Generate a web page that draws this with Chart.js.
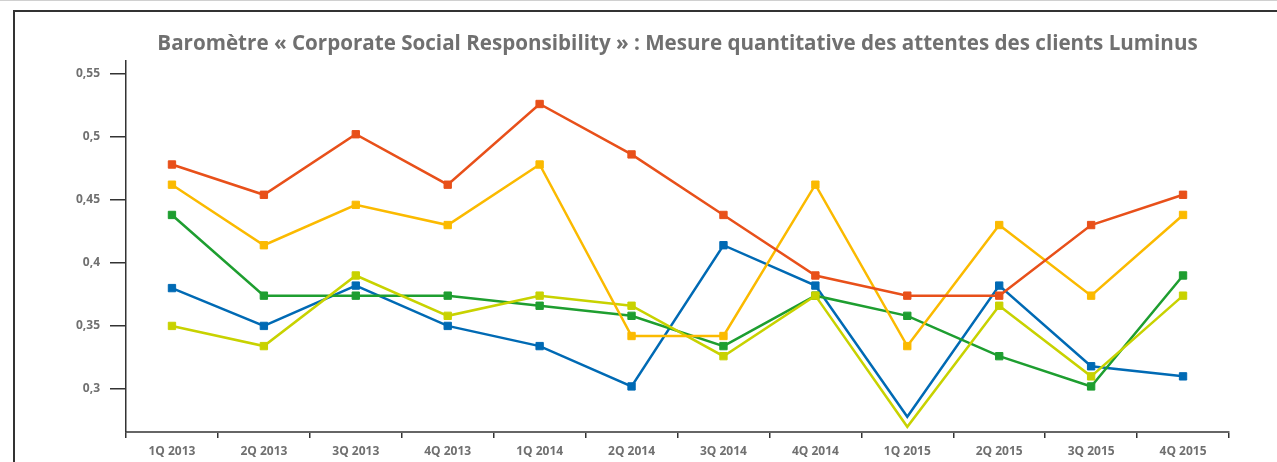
<!DOCTYPE html>
<html>
<head>
<meta charset="utf-8">
<script src="https://cdn.jsdelivr.net/npm/chart.js@4"></script>
<style>
  html, body { margin: 0; padding: 0; background: #fff; }
  body { width: 1277px; height: 462px; position: relative; overflow: hidden; border-top: 1px solid #d0d0d0; box-sizing: border-box; }
  #frame { position: absolute; left: 13px; top: 9px; right: -5px; bottom: -5px; border-left: 2px solid #333; border-top: 2px solid #333; }
  #wrap { position: absolute; left: 0; top: 0; width: 1277px; height: 462px; }
</style>
</head>
<body>
<div id="frame"></div>
<div id="wrap"><canvas id="chart"></canvas></div>
<script>
const quarters = ["1Q 2013", "2Q 2013", "3Q 2013", "4Q 2013", "1Q 2014", "2Q 2014", "3Q 2014", "4Q 2014", "1Q 2015", "2Q 2015", "3Q 2015", "4Q 2015"];

const orangeSeries = [0.478, 0.454, 0.502, 0.462, 0.526, 0.486, 0.438, 0.390, 0.374, 0.374, 0.430, 0.454];
const yellowSeries = [0.462, 0.414, 0.446, 0.430, 0.478, 0.342, 0.342, 0.462, 0.334, 0.430, 0.374, 0.438];
const limeSeries   = [0.350, 0.334, 0.390, 0.358, 0.374, 0.366, 0.326, 0.374, 0.270, 0.366, 0.310, 0.374];
const greenSeries  = [0.438, 0.374, 0.374, 0.374, 0.366, 0.358, 0.334, 0.374, 0.358, 0.326, 0.302, 0.390];
const blueSeries   = [0.380, 0.350, 0.382, 0.350, 0.334, 0.302, 0.414, 0.382, 0.278, 0.382, 0.318, 0.310];

const yTicks = [0.3, 0.35, 0.4, 0.45, 0.5, 0.55];

const grey = "#707070";
const font = "'Open Sans', 'DejaVu Sans', sans-serif";

function line(data, color, noMarkerAt) {
  return {
    data: data,
    borderColor: color,
    backgroundColor: color,
    borderWidth: 2.5,
    pointStyle: "rect",
    pointRadius: ctx => ctx.dataIndex === noMarkerAt ? 0 : 5.2,
    pointBorderWidth: 1,
    pointHoverRadius: 5.2,
    tension: 0,
    fill: false
  };
}

const ctx = document.getElementById("chart").getContext("2d");
new Chart(ctx, {
  type: "line",
  data: {
    labels: quarters,
    datasets: [
      line(orangeSeries, "#E8501A", -1),
      line(yellowSeries, "#FBBA00", -1),
      line(limeSeries, "#C8D200", 8),
      line(greenSeries, "#1E9E30", -1),
      line(blueSeries, "#006AB4", 8)
    ]
  },
  options: {
    responsive: true,
    maintainAspectRatio: false,
    animation: false,
    layout: { padding: { left: 0, right: 48, top: 0, bottom: 0 } },
    plugins: {
      legend: { display: false },
      tooltip: { enabled: false },
      title: {
        display: true,
        fullSize: false,
        text: "Baromètre « Corporate Social Responsibility » : Mesure quantitative des attentes des clients Luminus",
        color: grey,
        font: { family: font, size: 20.6, weight: "bold" },
        padding: { top: 31, bottom: 4 }
      }
    },
    scales: {
      x: {
        offset: true,
        grid: { display: true, drawOnChartArea: false, tickLength: 6, color: "#333", lineWidth: 1.5, offset: true },
        border: { display: true, color: "#666", width: 2 },
        ticks: { color: grey, font: { family: font, size: 12, weight: "bold" }, padding: 6, maxRotation: 0 },
        afterFit: s => { s.height = 31; }
      },
      y: {
        min: 0.26587,
        max: 0.56032,
        afterBuildTicks: s => { s.ticks = yTicks.map(v => ({ value: v })); },
        grid: { display: true, drawOnChartArea: false, tickLength: 16, color: "#333", lineWidth: 1.5 },
        border: { display: true, color: "#333", width: 1.5 },
        ticks: {
          color: grey,
          font: { family: font, size: 12, weight: "bold" },
          padding: 10,
          callback: v => String(v).replace(".", ",")
        },
        afterFit: s => { s.width = 126; }
      }
    }
  }
});
</script>
</body>
</html>
